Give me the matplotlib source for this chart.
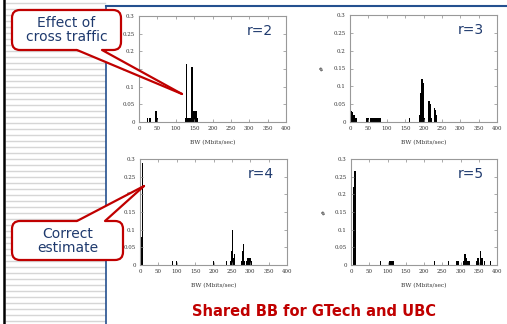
import numpy as np
import matplotlib
matplotlib.use("Agg")
import matplotlib.pyplot as plt
from matplotlib.patches import FancyBboxPatch, Polygon

# histogram bars: bandwidth bin (Mbits/sec) and fraction
r2_bw = [2, 24, 28, 32, 46, 49, 127, 130, 133, 136, 140, 144, 147, 150, 153, 156, 159]
r2_frac = [0.01, 0.01, 0.01, 0.01, 0.03, 0.01, 0.01, 0.165, 0.01, 0.01, 0.01, 0.155,
           0.03, 0.03, 0.03, 0.03, 0.01]

r3_bw = [4, 7, 10, 13, 16, 46, 50, 56, 60, 64, 68, 72, 76, 82, 161,
         190, 193, 196, 199, 202, 215, 218, 221, 230, 233, 236]
r3_frac = [0.03, 0.028, 0.02, 0.02, 0.01, 0.01, 0.01, 0.01, 0.01, 0.01, 0.01, 0.01, 0.01, 0.01, 0.01,
           0.02, 0.08, 0.12, 0.11, 0.01, 0.06, 0.05, 0.01, 0.04, 0.035, 0.02]

r4_bw = [4, 7, 88, 99, 200, 235, 246, 249, 252, 255, 258, 276, 279, 282, 285,
         289, 292, 295, 298, 301, 304]
r4_frac = [0.08, 0.29, 0.01, 0.01, 0.01, 0.01, 0.01, 0.04, 0.10, 0.02, 0.03, 0.01, 0.04, 0.06, 0.01,
           0.01, 0.02, 0.02, 0.02, 0.02, 0.01]

r5_bw = [8, 11, 80, 106, 110, 115, 229, 268, 290, 294, 308, 312, 315, 319, 323,
         343, 348, 354, 358, 361, 365, 382]
r5_frac = [0.22, 0.265, 0.01, 0.01, 0.01, 0.01, 0.01, 0.01, 0.01, 0.01, 0.01, 0.03, 0.02, 0.01, 0.01,
           0.01, 0.02, 0.04, 0.02, 0.02, 0.01, 0.01]

x_ticks = [0, 50, 100, 150, 200, 250, 300, 350, 400]
y_ticks = [0, 0.05, 0.1, 0.15, 0.2, 0.25, 0.3]
y_ticklabels = ["0", "0.05", "0.1", "0.15", "0.2", "0.25", "0.3"]
panel_labels = ["r=2", "r=3", "r=4", "r=5"]
title_text = "Shared BB for GTech and UBC"

W, H = 507, 324
NAVY = "#1f3a6e"
RED = "#c00000"
BLUE = "#24508f"

fig = plt.figure(figsize=(W / 100, H / 100), dpi=100)

# background slide decoration in pixel coordinates
bg = fig.add_axes([0, 0, 1, 1], zorder=-1)
bg.set_xlim(0, W)
bg.set_ylim(H, 0)
bg.axis("off")
for yy in np.arange(3, H, 6):
    bg.plot([6, 105], [yy, yy], color="#d6d6d6", lw=1.0)
bg.plot([4, 4], [0, H], color="black", lw=1.8)
bg.plot([105.5, W], [5.5, 5.5], color=BLUE, lw=1.5)
bg.plot([105.5, 105.5], [5.5, H], color=BLUE, lw=1.2)


def px_rect(x0, x1, y0, y1):
    return [x0 / W, 1 - y1 / H, (x1 - x0) / W, (y1 - y0) / H]


panels = [
    (px_rect(139, 286, 16, 122), r2_bw, r2_frac),
    (px_rect(350, 497, 15, 122), r3_bw, r3_frac),
    (px_rect(140, 287, 159, 265), r4_bw, r4_frac),
    (px_rect(351, 497, 159, 265), r5_bw, r5_frac),
]

for i, (rect, bw, frac) in enumerate(panels):
    ax = fig.add_axes(rect, zorder=1)
    ax.bar(bw, frac, width=3.6, color="black", linewidth=0)
    ax.set_xlim(0, 400)
    ax.set_ylim(0, 0.3)
    ax.set_xticks(x_ticks)
    ax.set_yticks(y_ticks)
    ax.set_yticklabels(y_ticklabels)
    ax.tick_params(direction="in", length=2, width=0.5, colors="#888888",
                   labelcolor="#333333", labelsize=4, top=True, right=True, pad=3)
    for lab in ax.get_xticklabels() + ax.get_yticklabels():
        lab.set_family("DejaVu Serif")
    for sp in ax.spines.values():
        sp.set_color("#999999")
        sp.set_linewidth(0.8)
    ax.set_xlabel("BW (Mbits/sec)", fontsize=4.2, family="DejaVu Serif", color="#333333")
    ax.xaxis.set_label_coords(0.5, -0.17)
    if i % 2 == 1:
        ax.set_ylabel("#", fontsize=4.5, family="DejaVu Serif", color="#333333")
        ax.yaxis.set_label_coords(-0.17, 0.5)
    ax.text(0.73, 0.86, panel_labels[i], transform=ax.transAxes, fontsize=10,
            color=NAVY, ha="left", va="center")

# callouts on top
fg = fig.add_axes([0, 0, 1, 1], zorder=5)
fg.set_xlim(0, W)
fg.set_ylim(H, 0)
fg.axis("off")
fg.patch.set_alpha(0)


def callout(x0, x1, y0, y1, base, tip, text, base_y):
    box = FancyBboxPatch((x0, y0), x1 - x0, y1 - y0,
                         boxstyle="round,pad=0,rounding_size=8",
                         fc="white", ec=RED, lw=1.6, zorder=2)
    fg.add_patch(box)
    inset = 2.5 if base_y == y1 else -2.5
    fill = Polygon([(base[0], base_y - inset), (base[0], base_y), tip,
                    (base[1], base_y), (base[1], base_y - inset)],
                   closed=True, fc="white", ec="none", zorder=3)
    fg.add_patch(fill)
    fg.plot([base[0], tip[0]], [base_y, tip[1]], color=RED, lw=1.6, zorder=4,
            solid_capstyle="round")
    fg.plot([base[1], tip[0]], [base_y, tip[1]], color=RED, lw=1.6, zorder=4,
            solid_capstyle="round")
    fg.text((x0 + x1) / 2, (y0 + y1) / 2, text, ha="center", va="center",
            fontsize=10, color=NAVY, linespacing=1.0, zorder=5)


callout(12, 121, 10, 50, (77, 102), (182, 94), "Effect of\ncross traffic", 50)
callout(12, 123, 221, 260, (77, 105), (144, 186), "Correct\nestimate", 221)

fig.text(314.5 / W, 1 - 311 / H, title_text, ha="center", va="center",
         fontsize=10.5, fontweight="bold", color=RED)

fig.savefig("out.png", dpi=100)
